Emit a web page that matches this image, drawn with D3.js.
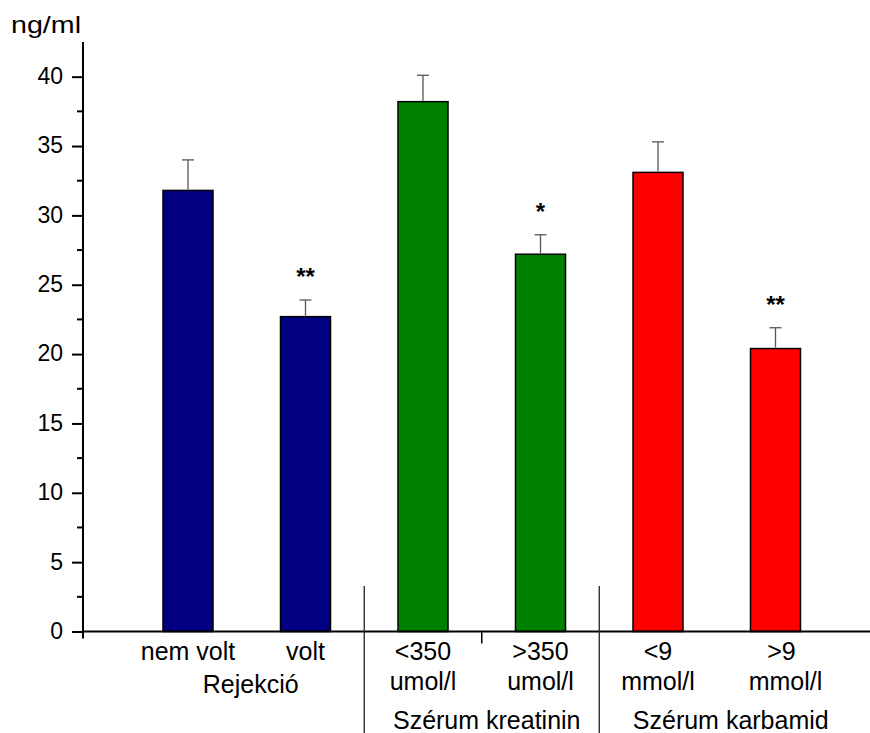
<!DOCTYPE html>
<html>
<head>
<meta charset="utf-8">
<script src="https://cdn.jsdelivr.net/npm/d3@7/dist/d3.min.js"></script>
<style>
  body { margin: 0; background: #fff; }
  text { font-family: "Liberation Sans", Arial, sans-serif; fill: #000; }
</style>
</head>
<body>
<div id="chart"></div>
<script>
// data
var categories = ["nem volt", "volt", "<350 umol/l", ">350 umol/l", "<9 mmol/l", ">9 mmol/l"];
var labelTop = ["nem volt", "volt", "<350", ">350", "<9", ">9"];
var labelBottom = ["", "", "umol/l", "umol/l", "mmol/l", "mmol/l"];
var means = [31.8, 22.7, 38.2, 27.2, 33.1, 20.4];
var errors = [2.2, 1.2, 1.9, 1.4, 2.2, 1.5];
var stars = ["", "**", "", "*", "", "**"];
var colors = ["#000080", "#000080", "#008000", "#008000", "#ff0000", "#ff0000"];
var groups = ["Rejekció", "Szérum kreatinin", "Szérum karbamid"];
var groupOf = [0, 0, 1, 1, 2, 2];
var yTicks = [0, 5, 10, 15, 20, 25, 30, 35, 40];
var yMinorTicks = [2.5, 7.5, 12.5, 17.5, 22.5, 27.5, 32.5, 37.5];

var width = 870,
    height = 733,
    axisX = 83,
    barWidth = 50;

var svg = d3.select("#chart").append("svg")
    .attr("width", width)
    .attr("height", height);

var y = d3.scaleLinear()
    .domain([0, 42.5])
    .range([631.5, 42]);

var x = d3.scalePoint()
    .domain(categories)
    .range([188, 775.5]);

// bars
svg.selectAll("rect.bar")
    .data(categories)
    .enter()
    .append("rect")
    .attr("class", "bar")
    .attr("x", function(d) { return x(d) - barWidth / 2; })
    .attr("y", function(d, i) { return y(means[i]); })
    .attr("width", barWidth)
    .attr("height", function(d, i) { return y(0) - y(means[i]); })
    .attr("fill", function(d, i) { return colors[i]; })
    .attr("stroke", "#000")
    .attr("stroke-width", 1.5);

// error bars (upper half only)
var err = svg.selectAll("g.err")
    .data(categories)
    .enter()
    .append("g")
    .attr("class", "err")
    .attr("stroke", "#555")
    .attr("stroke-width", 1.3);

err.append("line")
    .attr("x1", function(d) { return x(d); })
    .attr("x2", function(d) { return x(d); })
    .attr("y1", function(d, i) { return y(means[i]) - 1; })
    .attr("y2", function(d, i) { return y(means[i] + errors[i]); });

err.append("line")
    .attr("x1", function(d) { return x(d) - 6; })
    .attr("x2", function(d) { return x(d) + 6; })
    .attr("y1", function(d, i) { return y(means[i] + errors[i]); })
    .attr("y2", function(d, i) { return y(means[i] + errors[i]); });

// significance stars
svg.selectAll("text.star")
    .data(categories)
    .enter()
    .append("text")
    .attr("class", "star")
    .attr("x", function(d) { return x(d); })
    .attr("y", function(d, i) { return y(means[i] + errors[i]) - 15; })
    .attr("text-anchor", "middle")
    .style("font-size", "24px")
    .style("font-weight", "bold")
    .text(function(d, i) { return stars[i]; });

// y axis
var yAxis = d3.axisLeft(y)
    .tickValues(yTicks)
    .tickSize(11)
    .tickPadding(9)
    .tickFormat(d3.format("d"));

var yg = svg.append("g")
    .attr("transform", "translate(" + axisX + ",0)")
    .call(yAxis);
yg.select(".domain").remove();
yg.selectAll(".tick line").attr("stroke", "#000").attr("stroke-width", 2);
yg.selectAll(".tick text")
    .attr("dy", "0.3em")
    .style("font-size", "23px")
    .style("font-family", "'Liberation Sans', Arial, sans-serif");

svg.append("g")
    .attr("transform", "translate(" + axisX + ",0)")
    .selectAll("line")
    .data(yMinorTicks)
    .enter()
    .append("line")
    .attr("x1", -6)
    .attr("x2", 0)
    .attr("y1", function(d) { return y(d); })
    .attr("y2", function(d) { return y(d); })
    .attr("stroke", "#000")
    .attr("stroke-width", 2);

svg.append("line")
    .attr("x1", axisX)
    .attr("x2", axisX)
    .attr("y1", y(42.5))
    .attr("y2", y(0) + 7)
    .attr("stroke", "#000")
    .attr("stroke-width", 2);

// x axis line
svg.append("line")
    .attr("x1", axisX)
    .attr("x2", width)
    .attr("y1", y(0))
    .attr("y2", y(0))
    .attr("stroke", "#000")
    .attr("stroke-width", 2);

svg.append("text")
    .attr("x", 11)
    .attr("y", 33)
    .attr("textLength", 70)
    .attr("lengthAdjust", "spacingAndGlyphs")
    .style("font-size", "24px")
    .text("ng/ml");

// category labels
svg.selectAll("text.cat1")
    .data(categories)
    .enter()
    .append("text")
    .attr("class", "cat1")
    .attr("x", function(d, i) { return x(d) + (i == 5 ? 6 : 0); })
    .attr("y", 660)
    .attr("text-anchor", "middle")
    .style("font-size", "25px")
    .text(function(d, i) { return labelTop[i]; });

svg.selectAll("text.cat2")
    .data(categories)
    .enter()
    .append("text")
    .attr("class", "cat2")
    .attr("x", function(d, i) { return x(d) + (i == 5 ? 10 : 0); })
    .attr("y", 690)
    .attr("text-anchor", "middle")
    .style("font-size", "25px")
    .text(function(d, i) { return labelBottom[i]; });

// group labels, centred between the group's two bars
function groupCenter(g) {
    var xs = categories.filter(function(d, i) { return groupOf[i] == g; }).map(x);
    return d3.mean(xs);
}

svg.selectAll("text.group")
    .data(groups)
    .enter()
    .append("text")
    .attr("class", "group")
    .attr("x", function(d, i) { return groupCenter(i) + (i == 0 ? 4 : i == 2 ? 14 : 5); })
    .attr("y", function(d, i) { return i == 0 ? 693 : 729; })
    .attr("text-anchor", "middle")
    .style("font-size", "25px")
    .text(function(d) { return d; });

// separators between groups
var seps = [];
for (var i = 1; i < categories.length; ++i) {
    if (groupOf[i] != groupOf[i - 1]) {
        seps.push((x(categories[i]) + x(categories[i - 1])) / 2);
    }
}
svg.selectAll("line.sep")
    .data(seps)
    .enter()
    .append("line")
    .attr("class", "sep")
    .attr("x1", function(d) { return d; })
    .attr("x2", function(d) { return d; })
    .attr("y1", 586)
    .attr("y2", height)
    .attr("stroke", "#222")
    .attr("stroke-width", 1.3);

// the lone tick under the middle group
svg.append("line")
    .attr("x1", groupCenter(1))
    .attr("x2", groupCenter(1))
    .attr("y1", y(0))
    .attr("y2", y(0) + 12)
    .attr("stroke", "#000")
    .attr("stroke-width", 1.5);
</script>
</body>
</html>
